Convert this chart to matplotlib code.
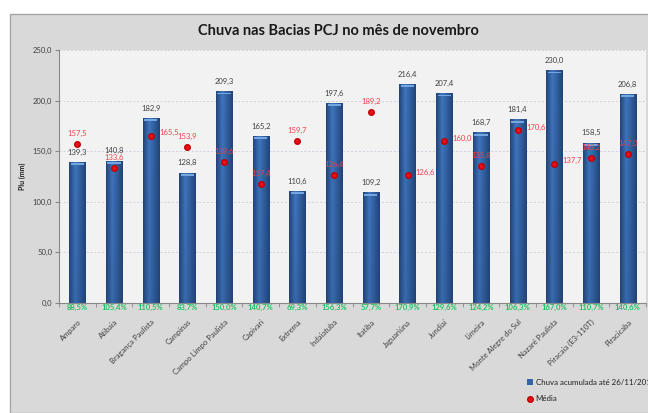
import numpy as np
import matplotlib
matplotlib.use("Agg")
import matplotlib.pyplot as plt
from matplotlib.patches import Rectangle

plt.rcParams['font.family'] = ['Lato', 'DejaVu Sans']

# dados
postos = ["Amparo", "Atibaia", "Bragança Paulista", "Campinas", "Campo Limpo Paulista",
          "Capivari", "Extrema", "Indaiatuba", "Itatiba", "Jaguariúna", "Jundiaí",
          "Limeira", "Monte Alegre do Sul", "Nazaré Paulista", "Piracaia (E3-110T)",
          "Piracicaba"]
chuva = [139.3, 140.8, 182.9, 128.8, 209.3, 165.2, 110.6, 197.6, 109.2, 216.4,
         207.4, 168.7, 181.4, 230.0, 158.5, 206.8]
media = [157.5, 133.6, 165.5, 153.9, 139.6, 117.4, 159.7, 126.4, 189.2, 126.6,
         160.0, 135.8, 170.6, 137.7, 143.2, 147.0]
percent = [88.5, 105.4, 110.5, 83.7, 150.0, 140.7, 69.3, 156.3, 57.7, 170.9,
           129.6, 124.2, 106.3, 167.0, 110.7, 140.6]
# posicao do rotulo da media (como no grafico original)
pos_media = ["above", "above", "right", "above", "above", "above", "above", "above",
             "above", "right", "right", "above", "right", "right", "above", "above"]

def br(v, suf=""):
    return ("%.1f" % v).replace(".", ",") + suf

fig = plt.figure(figsize=(6.48, 4.13), dpi=100)
fig.patch.set_facecolor("white")
# area do grafico (cinza)
fig.patches.append(Rectangle((10/648, 0), 1, 1 - 14/413, transform=fig.transFigure,
                             facecolor="#D9D9D9", edgecolor="#A6A6A6", lw=1.0, zorder=-10))

ax = fig.add_axes([59/648, 1 - 303/413, (646 - 59)/648, (303 - 50)/413])
ax.set_facecolor("#F2F2F2")

x = np.arange(len(postos))
w = 0.44
bars = ax.bar(x, chuva, width=w, color="#3264A6", zorder=2,
              label="Chuva acumulada até 26/11/2014")

# gradiente nas barras
prof = np.concatenate([np.linspace(0, 1, 12), np.linspace(1, 0, 20)])
c_dark = np.array([0x22, 0x44, 0x78]) / 255.
c_light = np.array([0x3E, 0x74, 0xBC]) / 255.
vert = np.linspace(0.8, 1.0, 50)[:, None]
for b in bars:
    img = (c_dark[None, None, :] + (c_light - c_dark)[None, None, :] * prof[None, :, None])
    img = img * vert[:, :, None] + (1 - vert[:, :, None]) * c_dark[None, None, :] * 0.9
    im = ax.imshow(img[::-1], extent=[b.get_x(), b.get_x() + b.get_width(), 0, b.get_height()],
                   aspect="auto", origin="upper", zorder=2.1, interpolation="bilinear")
    im.set_clip_path(b)
# tampa clara no topo
ax.bar(x, [1.8] * len(x), bottom=np.array(chuva) - 3.2, width=w * 0.82,
       color="#74A6E2", zorder=2.2, lw=0)

for xi, v in zip(x, chuva):
    ax.annotate(br(v), (xi, v), xytext=(0, 7), textcoords="offset points",
                ha="center", va="center", fontsize=5.5, color="#404040", zorder=4)

mk, = ax.plot(x, media, "o", color="#E8101C", mec="#C00000", ms=4, zorder=3, label="Média")
for xi, v, p in zip(x, media, pos_media):
    if p == "right":
        ax.annotate(br(v), (xi, v), xytext=(6, 2), textcoords="offset points",
                    ha="left", va="center", fontsize=5.5, color="#F0404A", zorder=4)
    else:
        ax.annotate(br(v), (xi, v), xytext=(0, 7.5), textcoords="offset points",
                    ha="center", va="center", fontsize=5.5, color="#F0404A", zorder=4)

for xi, p in zip(x, percent):
    ax.annotate(br(p, "%"), (xi, 0), xytext=(0, -3), textcoords="offset points",
                ha="center", va="center", fontsize=5.5, color="#22C060",
                fontweight="bold", zorder=4, annotation_clip=False)

ax.set_xlim(-0.5, len(postos) - 0.5)
ax.set_ylim(0, 250)
ax.set_yticks(np.arange(0, 251, 50))
ax.set_yticklabels([br(v) for v in np.arange(0, 251, 50)])
ax.yaxis.grid(True, ls=(0, (2, 2)), color="#CDD3E2", lw=0.7, zorder=0)
ax.set_axisbelow(True)

ax.set_xticks(x)
ax.set_xticklabels(postos, rotation=45, ha="right", rotation_mode="anchor")
ax.set_xticks(np.arange(-0.5, len(postos)), minor=True)
ax.tick_params(axis="x", which="major", length=0, pad=11, labelsize=5.5, labelcolor="#404040")
ax.tick_params(axis="x", which="minor", length=3, color="#888888", direction="out")
ax.tick_params(axis="y", length=3, color="#888888", labelsize=5.5, labelcolor="#404040", pad=2)

for s in ["top", "right"]:
    ax.spines[s].set_visible(False)
for s in ["left", "bottom"]:
    ax.spines[s].set_color("#888888")
    ax.spines[s].set_linewidth(0.8)

ax.set_ylabel("Plu (mm)", fontsize=5, fontweight="bold", color="#202020", labelpad=5)
fig.text(338/648, 1 - 31/413, "Chuva nas Bacias PCJ no mês de novembro", ha="center",
         va="center", fontsize=10.5, fontweight="bold", color="#1A1A1A")

# legenda cortada na borda direita, como no original
leg = fig.legend(handles=[bars, mk], loc="upper left", bbox_to_anchor=(523/648, 1 - 375/413),
                 frameon=False, fontsize=5.7, handlelength=0.8, handletextpad=0.3,
                 labelspacing=1.2, borderpad=0, labelcolor="#202020")

fig.savefig("out.png", dpi=100)
